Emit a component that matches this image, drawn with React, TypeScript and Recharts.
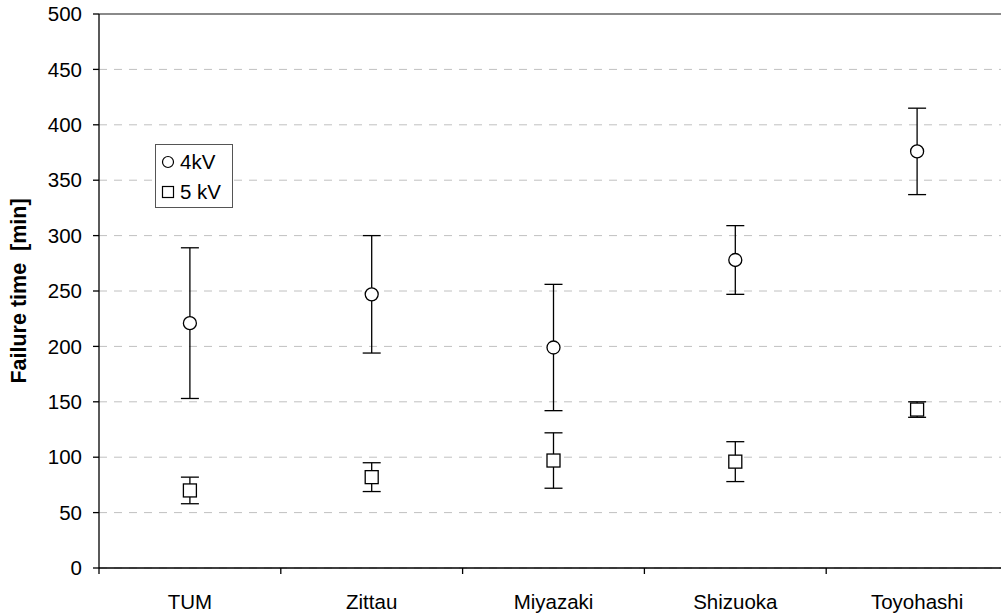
import React from 'react';
import {
  ComposedChart,
  Line,
  XAxis,
  YAxis,
  CartesianGrid,
  ErrorBar,
  ReferenceLine,
  Legend,
} from 'recharts';

// Failure times per test site, mean and error half-width
const sites = ['TUM', 'Zittau', 'Miyazaki', 'Shizuoka', 'Toyohashi'];
const mean4kV = [221, 247, 199, 278, 376];
const err4kV = [68, 53, 57, 31, 39];
const mean5kV = [70, 82, 97, 96, 143];
const err5kV = [12, 13, 25, 18, 7];
const yTicks = [0, 50, 100, 150, 200, 250, 300, 350, 400, 450, 500];

const data = sites.map((site, i) => ({
  site,
  kv4: mean4kV[i],
  kv4Err: err4kV[i],
  kv5: mean5kV[i],
  kv5Err: err5kV[i],
}));

const FONT = 'Arial, "Liberation Sans", sans-serif';
const CHART_W = 1020;
const CHART_H = 616;
const MARGIN = { top: 14, right: 12, left: 0, bottom: 8 };
const Y_AXIS_W = 99;
const PLOT_W = CHART_W - MARGIN.left - MARGIN.right - Y_AXIS_W;
const BAND = PLOT_W / sites.length;
const AXIS_Y = CHART_H - MARGIN.bottom - 40;

const CircleDot = (props: any) => {
  const { cx, cy } = props;
  if (cx == null || cy == null) return null;
  return <circle cx={cx} cy={cy} r={6.5} fill="#fff" stroke="#000" strokeWidth={1.3} />;
};

const SquareDot = (props: any) => {
  const { cx, cy } = props;
  if (cx == null || cy == null) return null;
  return <rect x={cx - 6.5} y={cy - 6.5} width={13} height={13} fill="#fff" stroke="#000" strokeWidth={1.3} />;
};

// category label centred in its band, tick mark on the band's left edge
const SiteTick = (props: any) => {
  const { x, payload } = props;
  const edge = x - BAND / 2;
  return (
    <g>
      <line x1={edge} y1={AXIS_Y} x2={edge} y2={AXIS_Y + 6} stroke="#000" strokeWidth={1.3} />
      <text x={x} y={AXIS_Y + 41} textAnchor="middle" fontFamily={FONT} fontSize={20.5} fill="#000">
        {payload.value}
      </text>
    </g>
  );
};

const LegendBox = () => (
  <div
    style={{
      width: 76,
      height: 62,
      border: '1px solid #555',
      background: '#fff',
      fontFamily: FONT,
      fontSize: 20.5,
      color: '#000',
      boxSizing: 'content-box',
    }}
  >
    <div style={{ display: 'flex', alignItems: 'center', height: 30, marginTop: 2 }}>
      <svg width={24} height={20}>
        <circle cx={12} cy={10} r={5.5} fill="#fff" stroke="#000" strokeWidth={1.2} />
      </svg>
      <span>4kV</span>
    </div>
    <div style={{ display: 'flex', alignItems: 'center', height: 30 }}>
      <svg width={24} height={20}>
        <rect x={6.5} y={4.5} width={11} height={11} fill="#fff" stroke="#000" strokeWidth={1.2} />
      </svg>
      <span>5 kV</span>
    </div>
  </div>
);

const YTitle = (props: any) => {
  const { viewBox } = props;
  const cy = viewBox.y + viewBox.height / 2;
  return (
    <text
      x={19}
      y={cy}
      transform={`rotate(-90, 19, ${cy})`}
      textAnchor="middle"
      dominantBaseline="central"
      fontFamily={FONT}
      fontWeight="bold"
      fontSize={21.5}
      fill="#000"
      style={{ whiteSpace: 'pre' }}
    >
      {'Failure time  [min]'}
    </text>
  );
};

export default function App() {
  return (
    <div
      style={{
        position: 'absolute',
        left: 0,
        top: 0,
        width: 1001,
        height: 616,
        overflow: 'hidden',
        background: '#fff',
      }}
    >
      <ComposedChart width={CHART_W} height={CHART_H} data={data} margin={MARGIN}>
        <CartesianGrid horizontal vertical={false} stroke="#c0c0c0" strokeDasharray="8 7" />
        <ReferenceLine y={500} stroke="#8a8a8a" strokeWidth={2} />
        <XAxis
          dataKey="site"
          type="category"
          scale="band"
          height={40}
          axisLine={{ stroke: '#000', strokeWidth: 1.3 }}
          tickLine={false}
          tick={<SiteTick />}
          interval={0}
        />
        <YAxis
          width={Y_AXIS_W}
          domain={[0, 500]}
          ticks={yTicks}
          interval={0}
          axisLine={{ stroke: '#000', strokeWidth: 1.3 }}
          tickLine={{ stroke: '#000', strokeWidth: 1.3 }}
          tickSize={6}
          tickMargin={11}
          tick={{ fontFamily: FONT, fontSize: 20.5, fill: '#000' }}
          label={<YTitle />}
        />
        <Legend
          layout="horizontal"
          align="center"
          verticalAlign="middle"
          content={<LegendBox />}
          wrapperStyle={{ position: 'absolute', left: 155, top: 144, width: 78, height: 64 }}
        />
        <Line
          dataKey="kv4"
          stroke="none"
          dot={<CircleDot />}
          activeDot={false}
          isAnimationActive={false}
        >
          <ErrorBar dataKey="kv4Err" width={9} stroke="#000" strokeWidth={1.3} />
        </Line>
        <Line
          dataKey="kv5"
          stroke="none"
          dot={<SquareDot />}
          activeDot={false}
          isAnimationActive={false}
        >
          <ErrorBar dataKey="kv5Err" width={9} stroke="#000" strokeWidth={1.3} />
        </Line>
      </ComposedChart>
    </div>
  );
}
